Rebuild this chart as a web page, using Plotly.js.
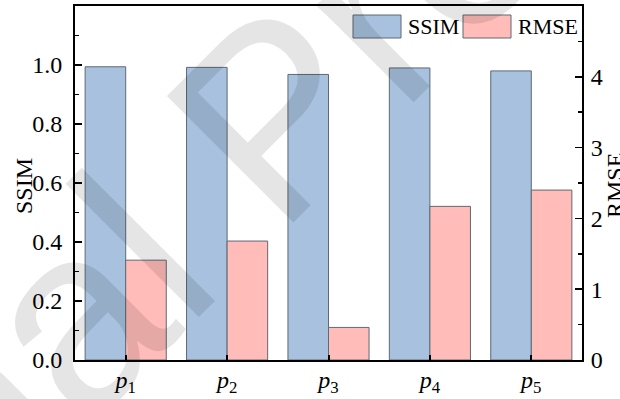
<!DOCTYPE html>
<html>
<head>
<meta charset="utf-8">
<script src="https://cdn.plot.ly/plotly-3.0.1.min.js"></script>
<style>html,body{margin:0;padding:0;background:#fff;}#chart{width:620px;height:399px;}</style>
</head>
<body>
<div id="chart"></div>
<script>
const categories = ["<i>p</i><sub>1</sub>", "<i>p</i><sub>2</sub>", "<i>p</i><sub>3</sub>", "<i>p</i><sub>4</sub>", "<i>p</i><sub>5</sub>"];
const ssimValues = [0.994, 0.992, 0.968, 0.990, 0.980];
const rmseValues = [1.41, 1.68, 0.46, 2.17, 2.40];
const seriesNames = ["SSIM", "RMSE"];
const leftTicks = [0, 0.2, 0.4, 0.6, 0.8, 1.0];
const rightTicks = [0, 1, 2, 3, 4];

const blue = "rgb(167,193,222)";
const red = "rgb(255,188,184)";
const edge = "rgb(95,105,115)";
const font = "Liberation Serif";

const traces = [
  {type: "bar", x: categories, y: ssimValues, name: seriesNames[0], yaxis: "y",
   width: 0.4, offset: -0.4, marker: {color: blue, line: {color: edge, width: 1}}},
  {type: "bar", x: categories, y: rmseValues, name: seriesNames[1], yaxis: "y2",
   width: 0.4, offset: 0, marker: {color: red, line: {color: edge, width: 1}}}
];

const L = 75, R = 38, T = 6, B = 39, W = 620, H = 399;
const pw = W - L - R, ph = H - T - B;
function px(x) { return (x - L) / pw; }
function py(y) { return (H - B - y) / ph; }

const shapes = [
  {type: "rect", xref: "paper", yref: "paper", x0: px(353), x1: px(401), y0: py(38), y1: py(15),
   fillcolor: blue, line: {color: edge, width: 1}},
  {type: "rect", xref: "paper", yref: "paper", x0: px(463), x1: px(511), y0: py(38), y1: py(15),
   fillcolor: red, line: {color: edge, width: 1}}
];

const annotations = [
  {xref: "paper", yref: "paper", x: px(406), y: py(26.5), xanchor: "left", yanchor: "middle",
   text: seriesNames[0], showarrow: false, font: {family: font, size: 22, color: "#000"}},
  {xref: "paper", yref: "paper", x: px(516), y: py(26.5), xanchor: "left", yanchor: "middle",
   text: seriesNames[1], showarrow: false, font: {family: font, size: 22, color: "#000"}},
  {xref: "paper", yref: "paper", x: px(24), y: py(186), xanchor: "center", yanchor: "middle",
   text: "SSIM", textangle: -90, showarrow: false, font: {family: font, size: 24, color: "#000"}},
  {xref: "paper", yref: "paper", x: px(615), y: py(186), xanchor: "center", yanchor: "middle",
   text: "RMSE", textangle: -90, showarrow: false, font: {family: font, size: 24, color: "#000"}},
  {xref: "paper", yref: "paper", x: px(272), y: py(118), xanchor: "center", yanchor: "middle",
   text: "Journal Pre-proof", textangle: -45, showarrow: false,
   font: {family: "Liberation Sans", size: 260, color: "rgba(0,0,0,0.10)"}}
];

const layout = {
  width: W, height: H,
  margin: {l: L, r: R, t: T, b: B, pad: 0},
  paper_bgcolor: "#fff", plot_bgcolor: "#fff",
  showlegend: false,
  barmode: "overlay",
  font: {family: font, size: 24, color: "#000"},
  xaxis: {
    type: "category", range: [-0.5, 4.5],
    showline: true, linecolor: "#000", linewidth: 2, mirror: true,
    ticks: "inside", ticklen: 5, tickwidth: 2, tickcolor: "#000",
    tickfont: {family: font, size: 24, color: "#000"},
    ticklabelstandoff: -3,
    showgrid: false, zeroline: false
  },
  yaxis: {
    range: [0, 1.2], tickvals: leftTicks, ticktext: leftTicks.map(v => v.toFixed(1)),
    showline: true, linecolor: "#000", linewidth: 2,
    ticks: "inside", ticklen: 7, tickwidth: 1.5, tickcolor: "#000",
    minor: {dtick: 0.1, ticks: "inside", ticklen: 4, tickwidth: 1.5, tickcolor: "#000", showgrid: false},
    tickfont: {family: font, size: 24, color: "#000"},
    ticklabelstandoff: 6,
    showgrid: false, zeroline: false
  },
  yaxis2: {
    overlaying: "y", side: "right",
    range: [0, 5], tickvals: rightTicks, ticktext: rightTicks.map(String),
    showline: true, linecolor: "#000", linewidth: 2,
    ticks: "inside", ticklen: 7, tickwidth: 1.5, tickcolor: "#000",
    minor: {dtick: 0.5, ticks: "inside", ticklen: 4, tickwidth: 1.5, tickcolor: "#000", showgrid: false},
    tickfont: {family: font, size: 24, color: "#000"},
    ticklabelstandoff: 2,
    showgrid: false, zeroline: false
  },
  shapes: shapes,
  annotations: annotations
};

Plotly.newPlot("chart", traces, layout, {displayModeBar: false, staticPlot: true});
</script>
</body>
</html>
